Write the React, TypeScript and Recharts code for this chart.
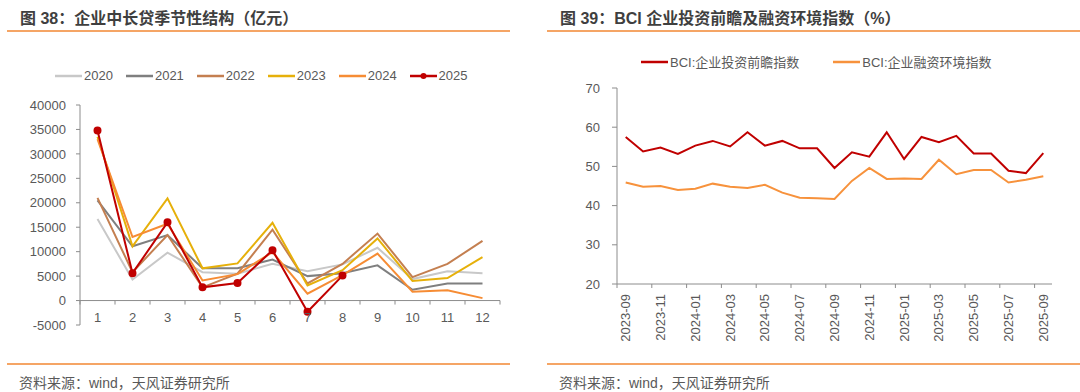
import React from "react";
import { LineChart, Line, XAxis, YAxis, ReferenceLine } from "recharts";

// 企业中长贷季节性结构（亿元）
const months = ["1", "2", "3", "4", "5", "6", "7", "8", "9", "10", "11", "12"];
const y2020 = [16700, 4300, 9800, 5800, 5500, 7500, 6000, 7400, 10800, 4400, 6000, 5600];
const y2021 = [20500, 11100, 13400, 6600, 6600, 8400, 5000, 5600, 7200, 2200, 3500, 3500];
const y2022 = [21000, 5800, 13400, 2700, 5500, 14500, 3500, 7500, 13700, 4800, 7500, 12200];
const y2023 = [33500, 11100, 20900, 6600, 7600, 15900, 3100, 6200, 12700, 4000, 4600, 8900];
const y2024 = [33000, 13000, 15700, 4100, 5400, 9900, 1400, 5200, 9600, 1800, 2100, 500];
const y2025 = [34800, 5600, 16000, 2700, 3600, 10300, -2300, 5100];
const seasonTicks = [-5000, 0, 5000, 10000, 15000, 20000, 25000, 30000, 35000, 40000];

// BCI 企业投资前瞻及融资环境指数
const bciMonths = [
  "2023-09", "2023-10", "2023-11", "2023-12", "2024-01", "2024-02", "2024-03",
  "2024-04", "2024-05", "2024-06", "2024-07", "2024-08", "2024-09", "2024-10",
  "2024-11", "2024-12", "2025-01", "2025-02", "2025-03", "2025-04", "2025-05",
  "2025-06", "2025-07", "2025-08", "2025-09",
];
const investIndex = [
  57.5, 53.8, 54.8, 53.2, 55.3, 56.5, 55.1, 58.7, 55.3, 56.5, 54.6, 54.6, 49.6,
  53.6, 52.5, 58.7, 51.9, 57.5, 56.2, 57.8, 53.3, 53.3, 48.9, 48.3, 53.4,
];
const financeIndex = [
  45.9, 44.8, 45.0, 44.0, 44.3, 45.6, 44.8, 44.5, 45.3, 43.3, 42.0, 41.9, 41.7,
  46.3, 49.6, 46.8, 46.9, 46.8, 51.7, 48.0, 49.1, 49.1, 45.9, 46.6, 47.5,
];
const bciTicks = [20, 30, 40, 50, 60, 70];

const seasonData = months.map((m, i) => ({
  month: m,
  "2020": y2020[i],
  "2021": y2021[i],
  "2022": y2022[i],
  "2023": y2023[i],
  "2024": y2024[i],
  "2025": i < y2025.length ? y2025[i] : null,
}));

const bciData = bciMonths.map((m, i) => ({
  month: m,
  invest: investIndex[i],
  finance: financeIndex[i],
}));

const FONT = '"Liberation Sans", "Noto Sans CJK SC", sans-serif';
const TXT = "#595959";
const AXIS = "#8c8c8c";
const ORANGE_RULE = "#f5a565";
const RED = "#c00000";

const seasonSeries = [
  { key: "2020", color: "#c8c8c8" },
  { key: "2021", color: "#7f7f7f" },
  { key: "2022", color: "#c47f50" },
  { key: "2023", color: "#e6b00a" },
  { key: "2024", color: "#f68c34" },
  { key: "2025", color: RED, dot: true },
];
const bciSeries = [
  { key: "invest", name: "BCI:企业投资前瞻指数", color: RED },
  { key: "finance", name: "BCI:企业融资环境指数", color: "#f7923c" },
];

// left chart geometry (chart-local)
const L_TOP = 65;
const L_H = 220;
const L_BAND = 420 / months.length;
const L_ZERO = L_TOP + (L_H * 40000) / 45000;

// right chart geometry (chart-local)
const R_BOTTOM = 244;
const R_BAND = 435 / bciMonths.length;

const SeasonTick = (props: any) => {
  const { x, payload, index } = props;
  return (
    <g>
      <line x1={x - L_BAND / 2} x2={x - L_BAND / 2} y1={L_ZERO} y2={L_ZERO + 4} stroke={AXIS} />
      {index === months.length - 1 && (
        <line x1={x + L_BAND / 2} x2={x + L_BAND / 2} y1={L_ZERO} y2={L_ZERO + 4} stroke={AXIS} />
      )}
      <text x={x} y={L_ZERO + 17} textAnchor="middle" dominantBaseline="central" fill={TXT} fontSize={13} fontFamily={FONT}>
        {payload.value}
      </text>
    </g>
  );
};

const BciTick = (props: any) => {
  const { x, payload } = props;
  const ty = R_BOTTOM + 10;
  return (
    <g>
      <line x1={x - R_BAND / 2} x2={x - R_BAND / 2} y1={R_BOTTOM} y2={R_BOTTOM + 4} stroke={AXIS} />
      <text
        x={x}
        y={ty}
        transform={`rotate(-90 ${x} ${ty})`}
        textAnchor="end"
        dominantBaseline="central"
        fill={TXT}
        fontSize={13}
        fontFamily={FONT}
      >
        {payload.value}
      </text>
    </g>
  );
};

const LegendRow = ({ left, top, gap, items }: { left: number; top: number; gap: number; items: any[] }) => (
  <div style={{ position: "absolute", left, top, display: "flex", alignItems: "center", fontFamily: FONT, fontSize: 13, color: TXT, whiteSpace: "nowrap" }}>
    {items.map((it) => (
      <div key={it.key} style={{ display: "flex", alignItems: "center", marginRight: gap }}>
        <svg width={27} height={14} style={{ marginRight: 2 }}>
          <line x1={0} x2={27} y1={7} y2={7} stroke={it.color} strokeWidth={2.5} />
          {it.dot && <circle cx={13.5} cy={7} r={3} fill={it.color} />}
        </svg>
        <span>{it.name || it.key}</span>
      </div>
    ))}
  </div>
);

const Header = ({ left, width, title }: { left: number; width: number; title: string }) => (
  <>
    <div style={{ position: "absolute", left: left + 13, top: 5, fontFamily: FONT, fontSize: 16, fontWeight: "bold", color: "#3f3f3f", whiteSpace: "nowrap" }}>
      {title}
    </div>
    <div style={{ position: "absolute", left, top: 30, width, height: 1.5, background: ORANGE_RULE }} />
    <div style={{ position: "absolute", left, top: 363, width, height: 2, background: ORANGE_RULE }} />
    <div style={{ position: "absolute", left: left + 12, top: 372, fontFamily: FONT, fontSize: 14, color: TXT, whiteSpace: "nowrap" }}>
      资料来源：wind，天风证券研究所
    </div>
  </>
);

export default function App() {
  return (
    <div style={{ position: "fixed", left: 0, top: 0, width: 1080, height: 392, background: "#fff", overflow: "hidden" }}>
      <Header left={7} width={503} title="图 38：企业中长贷季节性结构（亿元）" />
      <Header left={547} width={533} title="图 39：BCI 企业投资前瞻及融资环境指数（%）" />

      <LegendRow left={55} top={68} gap={13} items={seasonSeries} />
      <LegendRow left={641} top={52} gap={34} items={bciSeries} />

      <div style={{ position: "absolute", left: 0, top: 40 }}>
        <LineChart width={520} height={320} data={seasonData} margin={{ top: L_TOP, right: 20, bottom: 5, left: 0 }}>
          <XAxis
            dataKey="month"
            height={30}
            interval={0}
            padding={{ left: L_BAND / 2, right: L_BAND / 2 }}
            axisLine={false}
            tickLine={false}
            tick={<SeasonTick />}
          />
          <YAxis
            width={80}
            domain={[-5000, 40000]}
            ticks={seasonTicks}
            interval={0}
            tickSize={4}
            tickMargin={10}
            axisLine={{ stroke: AXIS }}
            tickLine={{ stroke: AXIS }}
            tick={{ fill: TXT, fontSize: 13, fontFamily: FONT }}
          />
          <ReferenceLine y={0} stroke={AXIS} />
          {seasonSeries.map((s) => (
            <Line
              key={s.key}
              dataKey={s.key}
              stroke={s.color}
              strokeWidth={2}
              dot={s.dot ? { r: 3, fill: s.color, stroke: s.color } : false}
              isAnimationActive={false}
            />
          ))}
        </LineChart>
      </div>

      <div style={{ position: "absolute", left: 540, top: 40 }}>
        <LineChart width={540} height={320} data={bciData} margin={{ top: 48, right: 28, bottom: 6, left: 0 }}>
          <XAxis
            dataKey="month"
            height={70}
            interval={1}
            padding={{ left: R_BAND / 2, right: R_BAND / 2 }}
            axisLine={{ stroke: AXIS }}
            tickLine={false}
            tick={<BciTick />}
          />
          <YAxis
            width={77}
            domain={[20, 70]}
            ticks={bciTicks}
            interval={0}
            tickSize={5}
            tickMargin={12}
            axisLine={{ stroke: AXIS }}
            tickLine={{ stroke: AXIS }}
            tick={{ fill: TXT, fontSize: 13, fontFamily: FONT }}
          />
          {bciSeries.map((s) => (
            <Line key={s.key} dataKey={s.key} name={s.name} stroke={s.color} strokeWidth={2} dot={false} isAnimationActive={false} />
          ))}
        </LineChart>
      </div>
    </div>
  );
}
